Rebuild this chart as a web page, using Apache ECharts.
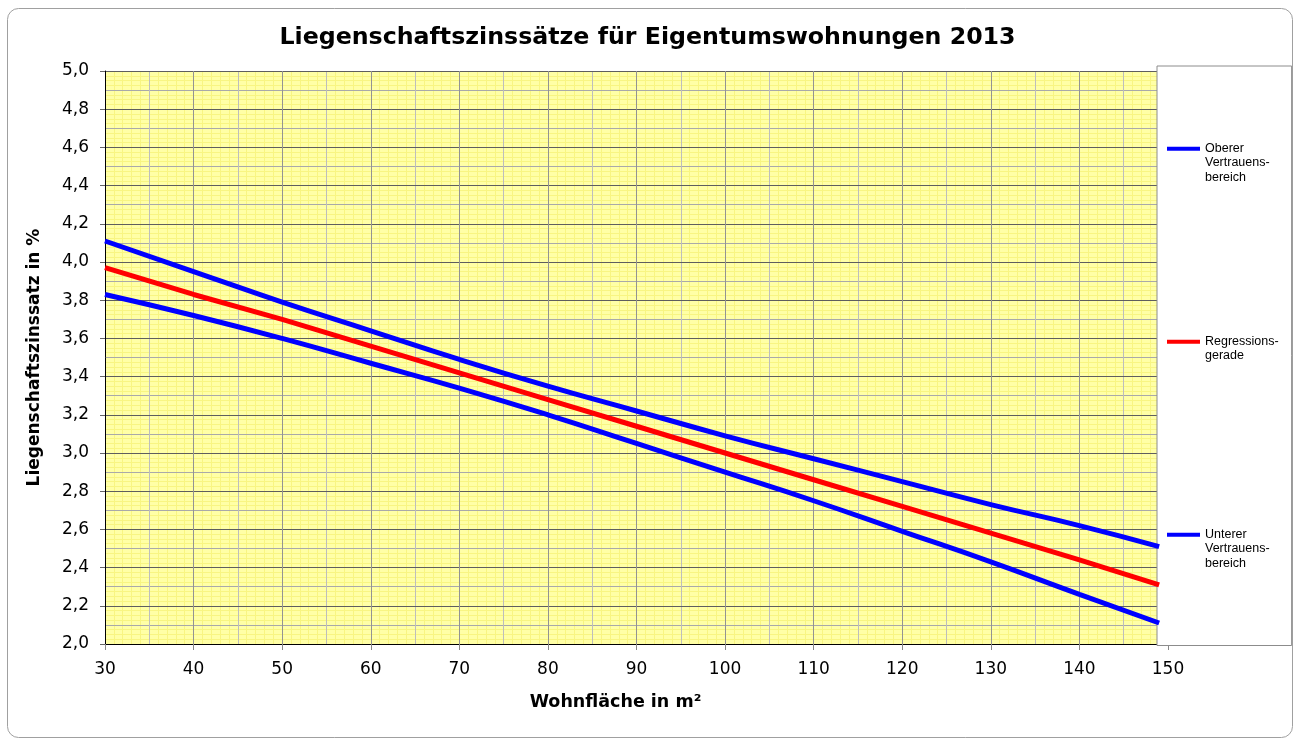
<!DOCTYPE html>
<html>
<head>
<meta charset="utf-8">
<script src="https://cdn.jsdelivr.net/npm/echarts@6/dist/echarts.min.js"></script>
<style>
    html, body { margin: 0; padding: 0; background: #fff; }
    #main { width: 1295px; height: 740px; }
</style>
</head>
<body>
<div id="main"></div>
<script>
var areas = [30, 40, 50, 60, 70, 80, 90, 100, 110, 120, 130, 140, 149];
var upperBound = [4.11, 3.95, 3.79, 3.64, 3.49, 3.35, 3.22, 3.09, 2.97, 2.85, 2.73, 2.62, 2.51];
var regression = [3.97, 3.83, 3.70, 3.56, 3.42, 3.28, 3.14, 3.00, 2.86, 2.72, 2.58, 2.44, 2.31];
var lowerBound = [3.83, 3.72, 3.60, 3.47, 3.34, 3.20, 3.05, 2.90, 2.75, 2.59, 2.43, 2.26, 2.11];

var seriesNames = ['Oberer Vertrauensbereich', 'Regressionsgerade', 'Unterer Vertrauensbereich'];
// leere dritte zeile, damit alle eintraege gleich hoch sind
var legendLabels = ['Oberer\nVertrauens-\nbereich', 'Regressions-\ngerade\n ', 'Unterer\nVertrauens-\nbereich'];

var tickFont = 'DejaVu Sans';

function pairs(xs, ys) {
    var out = [];
    for (var i = 0; i < xs.length; i++) {
        out.push([xs[i], ys[i]]);
    }
    return out;
}

// hilfsachsen nur fuer die gitterlinien
function gridAxis(min, max, interval, color, z) {
    return {
        type: 'value', min: min, max: max, interval: interval, z: z,
        axisLine: {show: false}, axisTick: {show: false}, axisLabel: {show: false},
        splitLine: {show: true, lineStyle: {color: color, width: 1}}
    };
}

var myChart = echarts.init(document.getElementById('main'));

var option = {
    backgroundColor: '#fff',
    animation: false,
    title: {
        text: 'Liegenschaftszinssätze für Eigentumswohnungen 2013',
        left: 'center',
        top: 21,
        textStyle: {fontFamily: 'DejaVu Sans', fontWeight: 'bold', fontSize: 23.7, color: '#000'}
    },
    graphic: [{
        type: 'rect',
        z: -10,
        shape: {x: 7.5, y: 8.5, width: 1285, height: 729, r: 11},
        style: {fill: 'none', stroke: '#a0a0a0', lineWidth: 1}
    }],
    grid: {
        left: 105, top: 71, right: 127, bottom: 96,
        show: true,
        backgroundColor: '#ffffa6',
        borderWidth: 0
    },
    legend: {
        orient: 'vertical',
        left: 1157, top: 66,
        padding: [75, 13, 75, 10],
        itemGap: 149.5,
        itemWidth: 33,
        itemHeight: 32,
        icon: 'path://M0,0h33v4h-33z M0,31.9h0.1v0.1h-0.1z',
        backgroundColor: '#fff',
        borderColor: '#8c8c8c',
        borderWidth: 1,
        data: seriesNames,
        formatter: function (name) {
            return legendLabels[seriesNames.indexOf(name)];
        },
        textStyle: {fontFamily: 'Liberation Sans', fontSize: 12.5, lineHeight: 14.5, color: '#000'}
    },
    xAxis: [
        {
            type: 'value', min: 30, max: 150, interval: 10, z: 3,
            name: 'Wohnfläche in m²',
            nameLocation: 'middle',
            nameGap: 49,
            nameTextStyle: {fontFamily: 'DejaVu Sans', fontWeight: 'bold', fontSize: 17.5, color: '#000', padding: [0, 42, 0, 0]},
            axisLine: {show: true, onZero: false, lineStyle: {color: '#000', width: 1}},
            axisTick: {show: true, length: 6, lineStyle: {color: '#888'}},
            axisLabel: {margin: 17, fontFamily: tickFont, fontSize: 17, color: '#000'},
            splitLine: {show: true, lineStyle: {color: '#939393', width: 1}}
        },
        gridAxis(30, 150, 5, '#bdbdbd', 2),
        gridAxis(30, 150, 1, '#f8f582', 1)
    ],
    yAxis: [
        {
            type: 'value', min: 2, max: 5, interval: 0.2, z: 3,
            name: 'Liegenschaftszinssatz in %',
            nameLocation: 'middle',
            nameGap: 62,
            nameTextStyle: {fontFamily: 'DejaVu Sans', fontWeight: 'bold', fontSize: 17, color: '#000'},
            axisLine: {show: true, onZero: false, lineStyle: {color: '#000', width: 1}},
            axisTick: {show: true, length: 5, lineStyle: {color: '#666'}},
            axisLabel: {
                margin: 16, fontFamily: tickFont, fontSize: 17, color: '#000',
                formatter: function (v) { return v.toFixed(1).replace('.', ','); }
            },
            splitLine: {show: true, lineStyle: {color: '#5e5e5e', width: 1}}
        },
        gridAxis(2, 5, 0.1, '#a9a9a9', 2),
        gridAxis(2, 5, 0.025, '#f8f582', 1)
    ],
    series: [
        {
            name: seriesNames[0], type: 'line', z: 10,
            data: pairs(areas, upperBound),
            showSymbol: false, symbol: 'none', smooth: true,
            itemStyle: {color: '#0000ff'},
            lineStyle: {color: '#0000ff', width: 5}
        },
        {
            name: seriesNames[1], type: 'line', z: 10,
            data: pairs(areas, regression),
            showSymbol: false, symbol: 'none',
            itemStyle: {color: '#ff0000'},
            lineStyle: {color: '#ff0000', width: 5}
        },
        {
            name: seriesNames[2], type: 'line', z: 10,
            data: pairs(areas, lowerBound),
            showSymbol: false, symbol: 'none', smooth: true,
            itemStyle: {color: '#0000ff'},
            lineStyle: {color: '#0000ff', width: 5}
        }
    ]
};
myChart.setOption(option);
</script>
</body>
</html>
